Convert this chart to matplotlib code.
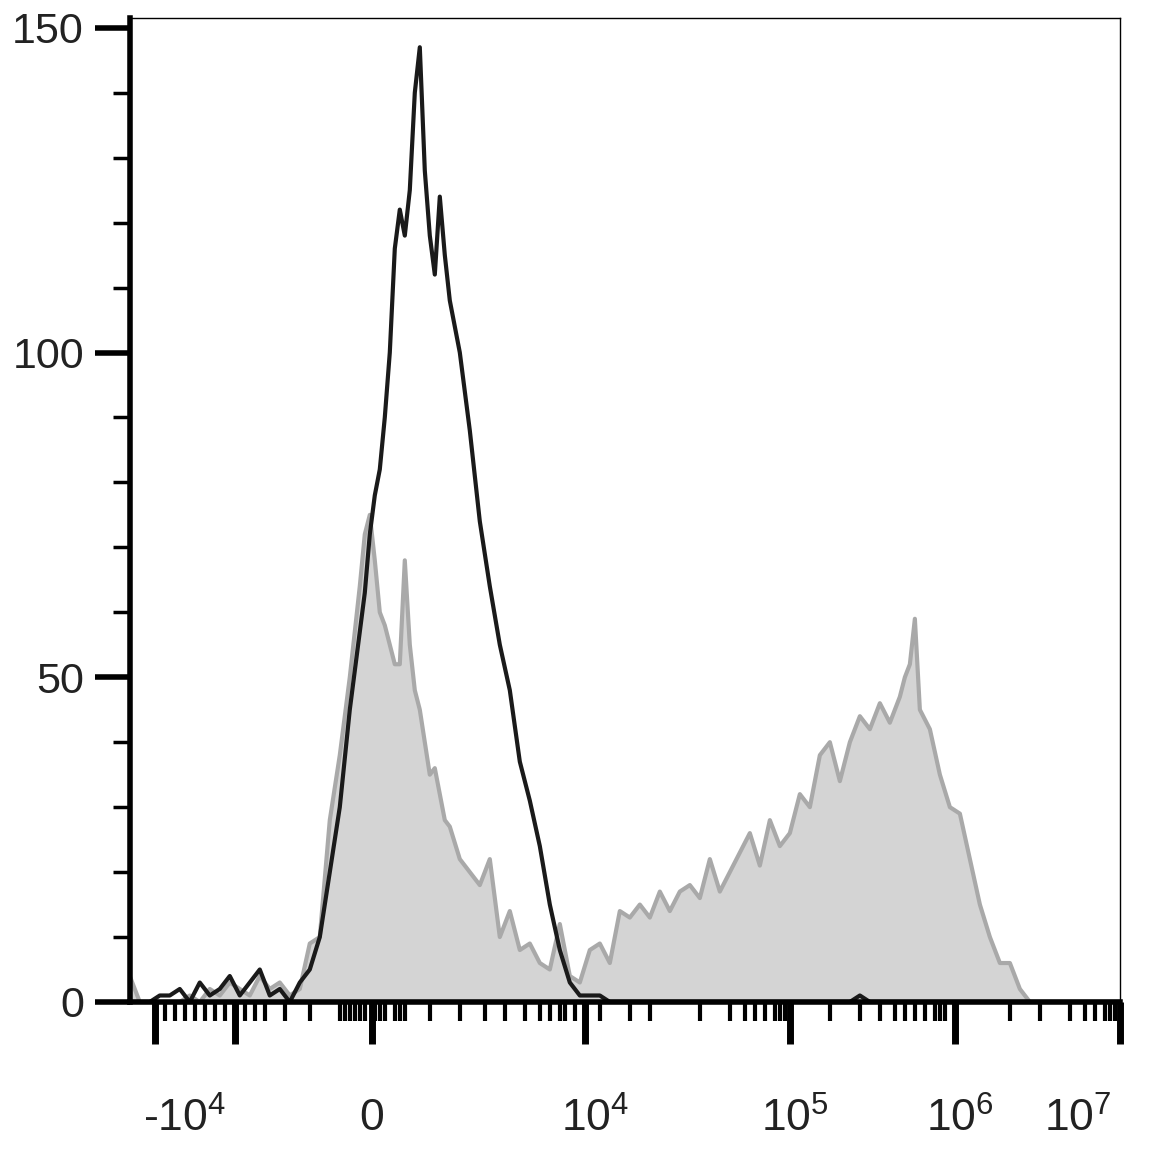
import matplotlib
matplotlib.use("Agg")
import matplotlib.pyplot as plt
import numpy as np

plt.rcParams["font.family"] = ["Liberation Sans", "DejaVu Sans"]
plt.rcParams["mathtext.fontset"] = "custom"
plt.rcParams["mathtext.rm"] = "Liberation Sans"
plt.rcParams["mathtext.it"] = "Liberation Sans"
plt.rcParams["axes.unicode_minus"] = False

# channel positions (display channel units along the axis)
channels = [130,140,150,160,170,180,190,200,210,220,230,240,250,260,270,280,290,300,310,320,
            330,340,350,360,365,370,375,380,385,390,395,400,405,410,415,420,425,430,435,440,
            445,450,460,470,480,490,500,510,520,530,540,550,560,570,580,590,600,610,620,630,
            640,650,660,670,680,690,700,710,720,730,740,750,760,770,780,790,800,810,820,830,
            840,850,860,870,880,890,900,905,910,915,920,930,940,950,960,970,980,990,1000,1010,
            1020,1030,1040,1060,1080,1100,1120]
control = [4,0,0,0,0,0,1,0,2,1,3,2,1,4,2,3,1,2,9,10,
           28,38,50,64,72,75,68,60,58,55,52,52,68,55,48,45,40,35,36,32,
           28,27,22,20,18,22,10,14,8,9,6,5,12,4,3,8,9,6,14,13,
           15,13,17,14,17,18,16,22,17,20,23,26,21,28,24,26,32,30,38,40,
           34,40,44,42,46,43,47,50,52,59,45,42,35,30,29,22,15,10,6,6,
           2,0,0,0,0,0,0]
stained = [0,0,0,1,1,2,0,3,1,2,4,1,3,5,1,2,0,3,5,10,
           20,30,45,57,63,72,78,82,90,100,116,122,118,125,140,147,128,118,112,124,
           115,108,100,88,74,64,55,48,37,31,24,15,8,3,1,1,1,0,0,0,
           0,0,0,0,0,0,0,0,0,0,0,0,0,0,0,0,0,0,0,0,
           0,0,1,0,0,0,0,0,0,0,0,0,0,0,0,0,0,0,0,0,
           0,0,0,0,0,0,0]
xtick_pos = [185, 372, 595, 795, 960, 1078]
xtick_labels = [r"-10$^{4}$", "0", r"10$^{4}$", r"10$^{5}$", r"10$^{6}$", r"10$^{7}$"]
ytick_major = [0, 50, 100, 150]

fig = plt.figure(figsize=(11.69, 11.70), dpi=100)
ax = fig.add_axes([0.111, 0.1436, 0.847, 0.841])
ax.fill_between(channels, control, color="#d4d4d4", lw=0)
ax.plot(channels, control, color="#a9a9a9", lw=3)
ax.plot(channels, stained, color="#1a1a1a", lw=3)
ax.set_xlim(130, 1120)
ax.set_ylim(0, 151.5)

ax.set_yticks(ytick_major)
ax.set_yticklabels([str(v) for v in ytick_major], fontsize=31, color="#222222")
ax.set_yticks(np.arange(0, 151, 10), minor=True)
ax.tick_params(axis="y", which="major", length=25, width=4, direction="out", pad=8)
ax.tick_params(axis="y", which="minor", length=12, width=2.5, direction="out")

major_x = [155, 235, 372, 585, 790, 955, 1120]
minor_x = [165,175,185,195,205,215,225,245,255,265,285,310,340,345,350,355,360,365,375,380,385,
           395,400,405,430,460,485,505,525,540,550,560,565,575,600,630,650,700,730,745,755,765,
           775,780,785,830,860,880,895,905,915,925,935,940,945,1010,1040,1070,1085,1095,1105,1110,1115]
ax.set_xticks(major_x)
ax.set_xticklabels([])
ax.set_xticks(minor_x, minor=True)
ax.tick_params(axis="x", which="major", length=30, width=5, direction="out")
ax.tick_params(axis="x", which="minor", length=14, width=3, direction="out")
for p, l in zip(xtick_pos, xtick_labels):
    ax.text(p, -18, l, ha="center", va="center", fontsize=32, color="#222222")

for s in ["left", "bottom"]:
    ax.spines[s].set_linewidth(4)
for s in ["top", "right"]:
    ax.spines[s].set_linewidth(1)
fig.savefig("out.png", dpi=100)
